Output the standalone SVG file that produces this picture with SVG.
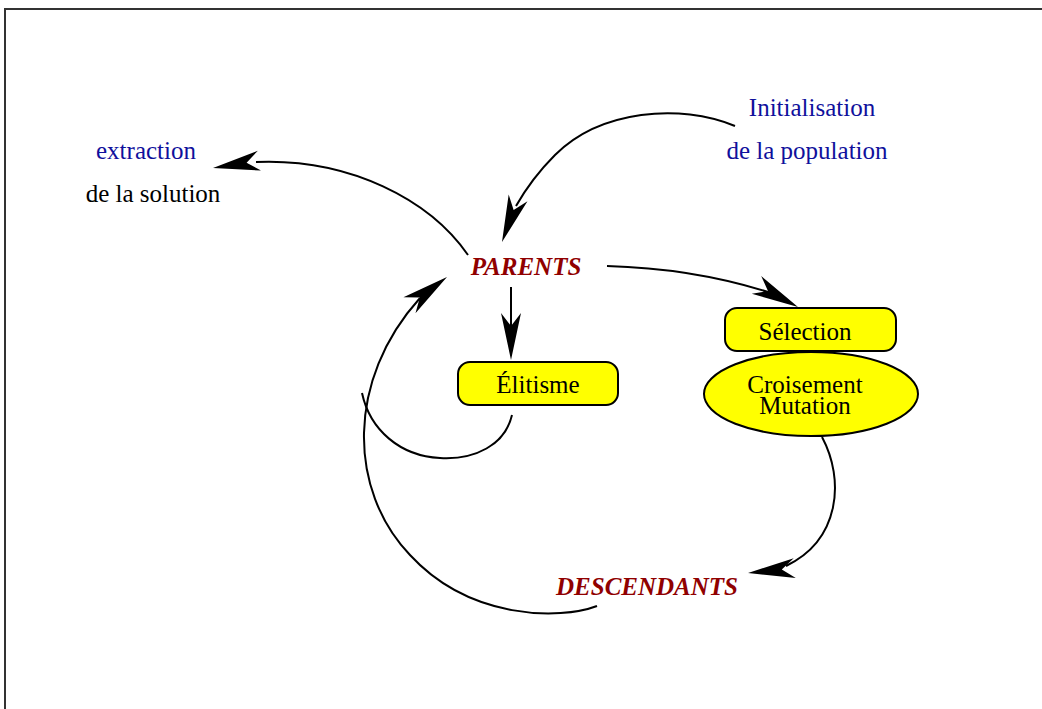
<svg xmlns="http://www.w3.org/2000/svg" width="1042" height="709" viewBox="0 0 1042 709">
<style>
.lbl{font-family:"Liberation Serif","Times New Roman",serif;font-size:25px;text-anchor:middle}
.blue{fill:#10109c}
.blk{fill:#000}
.red{fill:#900000;font-weight:bold;font-style:italic}
.box{fill:#ffff00;stroke:#000;stroke-width:2}
.ln{fill:none;stroke:#000;stroke-width:2}
.ah{fill:#000;stroke:none}
</style>
<defs>
<path id="ah" d="M0,0 L-47,-10 L-34,0 L-47,10 Z"/>
</defs>
<rect x="5" y="9" width="1100" height="800" fill="#fff" stroke="#333" stroke-width="2"/>
<g id="connectors">
<path class="ln" d="M735,126 C680,103 600,110 555,155 C537,173 524,192 516,206"/>
<use href="#ah" class="ah" transform="translate(502,242) rotate(110)"/>
<path class="ln" d="M468,255 C430,200 350,158 256,162"/>
<use href="#ah" class="ah" transform="translate(213,168) rotate(171)"/>
<path class="ln" d="M607,266 C680,268 730,280 768,292"/>
<use href="#ah" class="ah" transform="translate(798,307) rotate(28)"/>
<path class="ln" d="M511,287 L511,326"/>
<use href="#ah" class="ah" transform="translate(511,360) rotate(90)"/>
<path class="ln" d="M512,415 C505,445 475,460 440,458 C400,456 370,430 362,393"/>
<path class="ln" d="M822,437 C845,480 840,540 786,566"/>
<use href="#ah" class="ah" transform="translate(748,573) rotate(174)"/>
<path class="ln" d="M597,606 C560,620 470,620 410,555 C348,490 346,380 420,298"/>
<use href="#ah" class="ah" transform="translate(447,277) rotate(-37)"/>
</g>
<g id="init">
<text class="lbl blue" x="812" y="116">Initialisation</text>
<text class="lbl blue" x="807" y="159">de la population</text>
</g>
<g id="extraction">
<text class="lbl blue" x="146" y="159">extraction</text>
<text class="lbl blk" x="153" y="202">de la solution</text>
</g>
<g id="parents">
<text class="lbl red" x="526" y="275">PARENTS</text>
</g>
<g id="elitisme">
<rect class="box" x="458" y="362" width="160" height="43" rx="12"/>
<text class="lbl blk" x="538" y="393">Élitisme</text>
</g>
<g id="selection">
<rect class="box" x="725" y="308" width="171" height="43" rx="12"/>
<text class="lbl blk" x="805" y="340">Sélection</text>
</g>
<g id="croisement">
<ellipse class="box" cx="811" cy="394" rx="107" ry="42"/>
<text class="lbl blk" x="805" y="393">Croisement</text>
<text class="lbl blk" x="805" y="414">Mutation</text>
</g>
<g id="descendants">
<text class="lbl red" x="647" y="595">DESCENDANTS</text>
</g>
</svg>
